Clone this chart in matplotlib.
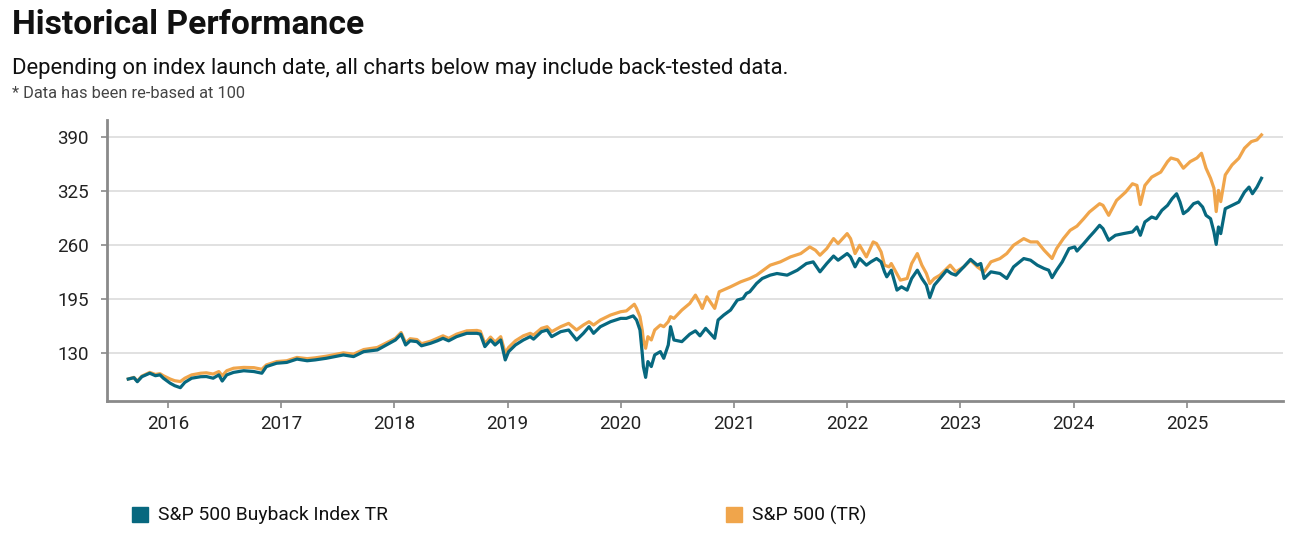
import matplotlib
matplotlib.use("Agg")
import matplotlib.pyplot as plt
from matplotlib.patches import Rectangle

# ---------------- data (decimal years, index level re-based at 100) ----------------
buyback_t = [2015.65, 2015.70, 2015.73, 2015.77, 2015.84, 2015.89, 2015.93, 2015.96, 2016.02, 2016.06,
             2016.11, 2016.15, 2016.21, 2016.29, 2016.34, 2016.40, 2016.45, 2016.48, 2016.52, 2016.58,
             2016.67, 2016.76, 2016.83, 2016.87, 2016.96, 2017.05, 2017.14, 2017.23, 2017.30, 2017.40,
             2017.55, 2017.64, 2017.73, 2017.85, 2017.93, 2018.01, 2018.06, 2018.10, 2018.14, 2018.20,
             2018.24, 2018.32, 2018.38, 2018.43, 2018.48, 2018.55, 2018.64, 2018.73, 2018.76, 2018.80,
             2018.85, 2018.89, 2018.94, 2018.98, 2019.01, 2019.07, 2019.14, 2019.20, 2019.23, 2019.30,
             2019.35, 2019.39, 2019.47, 2019.54, 2019.61, 2019.67, 2019.72, 2019.76, 2019.82, 2019.91,
             2020.00, 2020.05, 2020.11, 2020.14, 2020.17, 2020.19, 2020.20, 2020.22, 2020.24, 2020.27,
             2020.30, 2020.35, 2020.38, 2020.42, 2020.44, 2020.47, 2020.54, 2020.61, 2020.66, 2020.70,
             2020.75, 2020.79, 2020.83, 2020.86, 2020.91, 2020.97, 2021.03, 2021.08, 2021.11, 2021.14,
             2021.20, 2021.25, 2021.32, 2021.38, 2021.47, 2021.56, 2021.64, 2021.70, 2021.76, 2021.82,
             2021.88, 2021.92, 2022.00, 2022.03, 2022.07, 2022.11, 2022.17, 2022.21, 2022.26, 2022.30,
             2022.33, 2022.35, 2022.39, 2022.44, 2022.48, 2022.53, 2022.57, 2022.62, 2022.66, 2022.70,
             2022.73, 2022.77, 2022.82, 2022.88, 2022.92, 2022.96, 2023.03, 2023.09, 2023.15, 2023.18,
             2023.21, 2023.27, 2023.35, 2023.41, 2023.47, 2023.56, 2023.62, 2023.68, 2023.74, 2023.78,
             2023.81, 2023.85, 2023.90, 2023.96, 2024.01, 2024.03, 2024.09, 2024.14, 2024.18, 2024.23,
             2024.26, 2024.31, 2024.37, 2024.44, 2024.52, 2024.56, 2024.59, 2024.63, 2024.69, 2024.73,
             2024.78, 2024.83, 2024.87, 2024.91, 2024.94, 2024.97, 2025.01, 2025.06, 2025.10, 2025.14,
             2025.17, 2025.21, 2025.24, 2025.26, 2025.28, 2025.30, 2025.34, 2025.40, 2025.46, 2025.51,
             2025.55, 2025.58, 2025.62, 2025.66]
buyback_v = [99, 100.6, 95.8, 101.8, 106, 103, 104, 100, 94, 91,
             88.6, 95, 100, 101.8, 102, 100, 104, 96.6, 104, 107,
             109, 108, 106, 114, 118, 119, 123, 121, 122, 124,
             128, 126, 132, 134, 140, 146, 153, 140, 145, 144,
             139, 142, 145, 148, 145, 150, 154, 154, 153, 138,
             146, 140, 146, 122, 132, 140, 146, 150, 147, 156,
             158, 150, 156, 158, 146, 154, 162, 154, 162, 168,
             172, 172, 175, 170, 158, 130, 114, 101, 120, 114,
             128, 132, 124, 140, 162, 146, 144, 153, 157, 151,
             160, 154, 148, 170, 176, 182, 194, 196, 202, 204,
             214, 220, 224, 226, 224, 230, 238, 240, 228, 238,
             247, 242, 250, 246, 234, 244, 236, 240, 244, 240,
             228, 222, 230, 206, 210, 206, 220, 230, 220, 212,
             197, 212, 220, 230, 226, 224, 234, 243, 236, 238,
             220, 228, 226, 220, 234, 244, 242, 236, 232, 230,
             221, 230, 240, 256, 258, 253, 262, 270, 276, 284,
             280, 266, 272, 274, 276, 282, 272, 288, 294, 292,
             302, 308, 316, 322, 312, 298, 302, 310, 312, 306,
             296, 292, 276, 261, 282, 274, 304, 308, 312, 324,
             330, 322, 330, 340.6]

sp500_t = [2015.65, 2015.70, 2015.73, 2015.77, 2015.84, 2015.89, 2015.93, 2015.96, 2016.02, 2016.06,
           2016.11, 2016.15, 2016.21, 2016.29, 2016.34, 2016.40, 2016.45, 2016.48, 2016.52, 2016.58,
           2016.67, 2016.76, 2016.83, 2016.87, 2016.96, 2017.05, 2017.14, 2017.23, 2017.30, 2017.40,
           2017.55, 2017.64, 2017.73, 2017.85, 2017.93, 2018.01, 2018.06, 2018.10, 2018.14, 2018.20,
           2018.24, 2018.32, 2018.38, 2018.43, 2018.48, 2018.55, 2018.64, 2018.73, 2018.76, 2018.80,
           2018.85, 2018.89, 2018.94, 2018.98, 2019.01, 2019.07, 2019.14, 2019.20, 2019.23, 2019.30,
           2019.35, 2019.39, 2019.47, 2019.54, 2019.61, 2019.67, 2019.72, 2019.76, 2019.82, 2019.91,
           2020.00, 2020.05, 2020.11, 2020.12, 2020.14, 2020.17, 2020.19, 2020.20, 2020.22, 2020.24,
           2020.27, 2020.30, 2020.35, 2020.38, 2020.42, 2020.44, 2020.47, 2020.54, 2020.61, 2020.66,
           2020.70, 2020.72, 2020.76, 2020.79, 2020.83, 2020.87, 2020.97, 2021.06, 2021.14, 2021.20,
           2021.32, 2021.41, 2021.50, 2021.59, 2021.67, 2021.72, 2021.76, 2021.82, 2021.88, 2021.92,
           2022.00, 2022.03, 2022.07, 2022.11, 2022.17, 2022.23, 2022.26, 2022.30, 2022.33, 2022.37,
           2022.39, 2022.47, 2022.53, 2022.57, 2022.62, 2022.66, 2022.70, 2022.73, 2022.77, 2022.82,
           2022.91, 2022.96, 2023.03, 2023.09, 2023.15, 2023.21, 2023.27, 2023.35, 2023.41, 2023.47,
           2023.56, 2023.62, 2023.68, 2023.74, 2023.81, 2023.85, 2023.91, 2023.97, 2024.03, 2024.09,
           2024.14, 2024.23, 2024.26, 2024.31, 2024.38, 2024.46, 2024.52, 2024.56, 2024.59, 2024.63,
           2024.69, 2024.77, 2024.83, 2024.86, 2024.92, 2024.97, 2025.03, 2025.09, 2025.13, 2025.17,
           2025.21, 2025.24, 2025.26, 2025.28, 2025.30, 2025.34, 2025.40, 2025.46, 2025.51, 2025.57,
           2025.62, 2025.66]
sp500_v = [99, 101, 96.5, 102.5, 107, 104.5, 105.5, 103, 99, 97,
           96, 100, 104, 106, 106.5, 105, 108, 103, 109, 112,
           113, 112.7, 110.7, 116, 120, 121, 125, 123.5, 124.5, 126.5,
           130.5, 129, 134.5, 137, 142.5, 148, 155, 142.5, 147.5, 146.5,
           141.5, 144.5, 148, 151, 148, 153, 157, 157.5, 156.5, 141.5,
           149.5, 143.5, 150, 130, 137, 145, 151, 154, 152, 160,
           162, 156, 162, 166, 158, 164, 168, 164, 170, 176,
           180, 181, 188, 189, 184, 174, 158, 146, 136, 150,
           146, 158, 164, 162, 168, 174, 172, 182, 190, 200,
           190, 184, 198, 192, 184, 204, 210, 216, 220, 224,
           236, 240, 246, 250, 258, 254, 248, 256, 268, 262,
           274, 268, 250, 260, 246, 264, 262, 252, 236, 234,
           238, 218, 220, 238, 250, 236, 226, 214, 220, 224,
           236, 228, 234, 242, 234, 228, 240, 244, 250, 260,
           268, 264, 264, 254, 244, 256, 268, 278, 283, 292,
           300, 310, 308, 296, 314, 324, 334, 332, 309, 332,
           342, 348, 360.6, 365, 362.7, 352.7, 360.6, 365, 370.7, 352.7,
           340.6, 328.6, 300.5, 326, 312.5, 344.6, 356.7, 364.7, 376.8, 384.7,
           386.8, 392.8]

year_ticks = [2016, 2017, 2018, 2019, 2020, 2021, 2022, 2023, 2024, 2025]
y_ticks = [130, 195, 260, 325, 390]
series_names = ["S&P 500 Buyback Index TR", "S&P 500 (TR)"]

# ---------------- style ----------------
TEAL = "#07687f"
ORANGE = "#f0a54b"
plt.rcParams["font.family"] = ["Roboto", "DejaVu Sans"]

fig = plt.figure(figsize=(12.94, 5.33), dpi=100)
fig.patch.set_facecolor("white")

fig.text(0.0093, 0.953, "Historical Performance", fontsize=24.2, fontweight="bold",
         color="#111111", va="center", ha="left")
fig.text(0.0093, 0.872, "Depending on index launch date, all charts below may include back-tested data.",
         fontsize=15.9, color="#111111", va="center", ha="left")
fig.text(0.0093, 0.825, "* Data has been re-based at 100", fontsize=11.8, color="#444444",
         va="center", ha="left")

ax = fig.add_axes([0.0825, 0.2477, 0.909, 0.5273])
ax.plot(sp500_t, sp500_v, color=ORANGE, lw=2.3, solid_joinstyle="round", zorder=3)
ax.plot(buyback_t, buyback_v, color=TEAL, lw=2.3, solid_joinstyle="round", zorder=4)

ax.set_xlim(2015.46, 2025.85)
ax.set_ylim(72.6, 410.8)
ax.set_xticks(year_ticks)
ax.set_xticklabels([str(y) for y in year_ticks])
ax.set_yticks(y_ticks)
ax.set_yticklabels([str(v) for v in y_ticks])

ax.grid(axis="y", color="#dcdcdc", lw=1.2, zorder=0)
ax.set_axisbelow(True)
for s in ["top", "right"]:
    ax.spines[s].set_visible(False)
for s in ["left", "bottom"]:
    ax.spines[s].set_color("#8a8a8a")
    ax.spines[s].set_linewidth(2)
ax.tick_params(axis="y", length=4, width=1.2, color="#8a8a8a", pad=9,
               labelsize=13.5, labelcolor="#222222")
ax.tick_params(axis="x", length=5, width=1.2, color="#8a8a8a", pad=5,
               labelsize=13.5, labelcolor="#222222")

# legend (manual, matching the reference placement)
W, H = 1294, 533
for (px, col, name) in [(132, TEAL, series_names[0]), (726, ORANGE, series_names[1])]:
    fig.patches.append(Rectangle((px / W, (H - 522) / H), 16 / W, 15 / H,
                                 transform=fig.transFigure, color=col))
    fig.text((px + 26) / W, (H - 515) / H, name, fontsize=13.9, color="#111111",
             va="center", ha="left")

fig.savefig("out.png", dpi=100, facecolor="white")
